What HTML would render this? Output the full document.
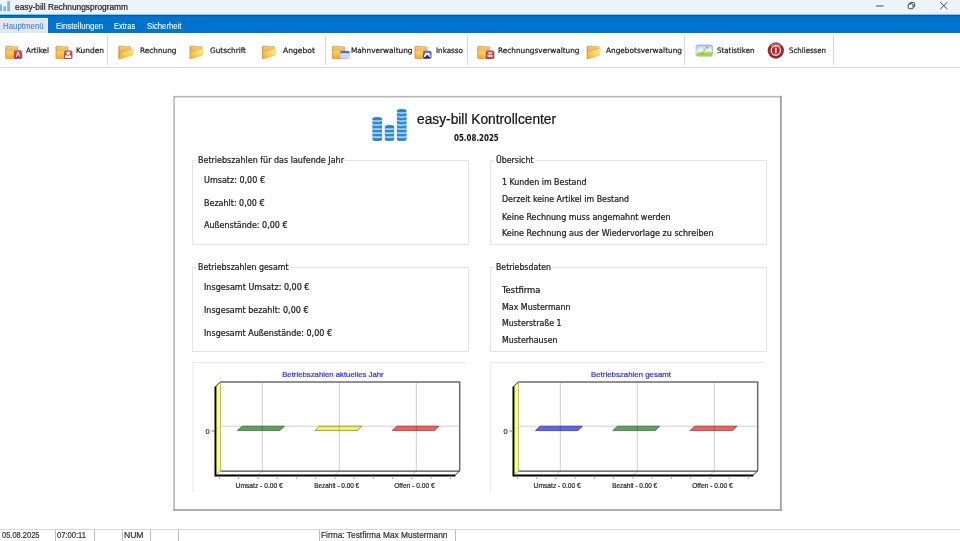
<!DOCTYPE html>
<html lang="de"><head><meta charset="utf-8"><title>easy-bill Rechnungsprogramm</title>
<style>
html,body{margin:0;padding:0;background:#fff;}
body{width:960px;height:541px;position:relative;overflow:hidden;font-family:'DejaVu Sans Condensed','Liberation Sans',sans-serif;}
.t{position:absolute;white-space:nowrap;line-height:1;transform-origin:0 0;display:block;-webkit-text-stroke:0.22px currentColor;}
.abs{position:absolute;}
#titlebar{left:0;top:0;width:960px;height:15px;background:linear-gradient(#edf3f8 0,#eff3f8 12.4px,#ddf8ff 13.2px,#d2f2ff 14.2px,#5aa6dc 14.7px,#045aa5 15px);}
#menubar{left:0;top:15px;width:960px;height:18px;background:linear-gradient(#045aa5 0,#045aa5 0.8px,#0073cc 1.6px,#0073cc 100%);}
#menutab{left:0;top:18px;width:48px;height:15px;background:#e3e8f0;box-sizing:border-box;border-top:1px solid #eef2f8;border-right:1px solid #eef2f8;}
#toolbar{left:0;top:33px;width:960px;height:34.6px;background:#fff;border-bottom:1px solid #dbdbdb;box-sizing:border-box;}
.sep{position:absolute;top:35px;width:1.4px;height:30px;background:#d6d6dc;}
#panel{left:173.5px;top:95.8px;width:608.2px;height:415px;background:#fff;}
.pb{position:absolute;}
.gb{position:absolute;box-sizing:border-box;border:1px solid #e4e4e4;}
.lg{position:absolute;background:#fff;height:10px;}
#status{left:0;top:528.7px;width:960px;height:1px;background:#d8d8d8;}
.ss{position:absolute;top:529.5px;width:1px;height:12px;background:#bdbdbd;}
svg{position:absolute;left:0;top:0;}
</style></head><body>

<div id="titlebar" class="abs"></div>
<div id="menubar" class="abs"></div>
<div id="menutab" class="abs"></div>
<div id="toolbar" class="abs"></div>
<div class="sep" style="left:107px"></div>
<div class="sep" style="left:325px"></div>
<div class="sep" style="left:467px"></div>
<div class="sep" style="left:684px"></div>
<div class="sep" style="left:832.5px"></div>
<span class="t" style="left:15.00px;top:2.80px;font-family:'Liberation Sans',sans-serif;font-size:9.3px;color:#1c1c1c;font-weight:normal;transform:scaleX(0.8962)">easy-bill Rechnungsprogramm</span>
<span class="t" style="left:2.90px;top:21.50px;font-family:'Liberation Sans',sans-serif;font-size:8.5px;color:#3b82cf;font-weight:normal;transform:scaleX(0.9260);-webkit-text-stroke-width:0.08px">Hauptmenü</span>
<span class="t" style="left:55.60px;top:21.50px;font-family:'Liberation Sans',sans-serif;font-size:8.5px;color:#ffffff;font-weight:normal;transform:scaleX(0.9246);-webkit-text-stroke-width:0.08px">Einstellungen</span>
<span class="t" style="left:114.00px;top:21.50px;font-family:'Liberation Sans',sans-serif;font-size:8.5px;color:#ffffff;font-weight:normal;transform:scaleX(0.8799);-webkit-text-stroke-width:0.08px">Extras</span>
<span class="t" style="left:147.00px;top:21.50px;font-family:'Liberation Sans',sans-serif;font-size:8.5px;color:#ffffff;font-weight:normal;transform:scaleX(0.9124);-webkit-text-stroke-width:0.08px">Sicherheit</span>
<span class="t" style="left:26.00px;top:47.45px;font-family:'DejaVu Sans','Liberation Sans',sans-serif;font-size:7.5px;color:#1a1a1a;font-weight:normal;transform:scaleX(0.9577)">Artikel</span>
<span class="t" style="left:76.00px;top:47.45px;font-family:'DejaVu Sans','Liberation Sans',sans-serif;font-size:7.5px;color:#1a1a1a;font-weight:normal;transform:scaleX(0.9933)">Kunden</span>
<span class="t" style="left:139.50px;top:47.45px;font-family:'DejaVu Sans','Liberation Sans',sans-serif;font-size:7.5px;color:#1a1a1a;font-weight:normal;transform:scaleX(0.9762)">Rechnung</span>
<span class="t" style="left:210.00px;top:47.45px;font-family:'DejaVu Sans','Liberation Sans',sans-serif;font-size:7.5px;color:#1a1a1a;font-weight:normal;transform:scaleX(0.9750)">Gutschrift</span>
<span class="t" style="left:282.50px;top:47.45px;font-family:'DejaVu Sans','Liberation Sans',sans-serif;font-size:7.5px;color:#1a1a1a;font-weight:normal;transform:scaleX(1.0139)">Angebot</span>
<span class="t" style="left:350.50px;top:47.45px;font-family:'DejaVu Sans','Liberation Sans',sans-serif;font-size:7.5px;color:#1a1a1a;font-weight:normal;transform:scaleX(0.9803)">Mahnverwaltung</span>
<span class="t" style="left:435.50px;top:47.45px;font-family:'DejaVu Sans','Liberation Sans',sans-serif;font-size:7.5px;color:#1a1a1a;font-weight:normal;transform:scaleX(0.9579)">Inkasso</span>
<span class="t" style="left:498.00px;top:47.45px;font-family:'DejaVu Sans','Liberation Sans',sans-serif;font-size:7.5px;color:#1a1a1a;font-weight:normal;transform:scaleX(0.9766)">Rechnungsverwaltung</span>
<span class="t" style="left:606.00px;top:47.45px;font-family:'DejaVu Sans','Liberation Sans',sans-serif;font-size:7.5px;color:#1a1a1a;font-weight:normal;transform:scaleX(0.9791)">Angebotsverwaltung</span>
<span class="t" style="left:717.00px;top:47.45px;font-family:'DejaVu Sans','Liberation Sans',sans-serif;font-size:7.5px;color:#1a1a1a;font-weight:normal;transform:scaleX(0.9445)">Statistiken</span>
<span class="t" style="left:788.50px;top:47.45px;font-family:'DejaVu Sans','Liberation Sans',sans-serif;font-size:7.5px;color:#1a1a1a;font-weight:normal;transform:scaleX(0.9341)">Schliessen</span>
<div id="panel" class="abs"></div>
<span class="t" style="left:416.90px;top:112.00px;font-family:'Liberation Sans',sans-serif;font-size:14px;color:#111;font-weight:normal;transform:scaleX(0.9822)">easy-bill Kontrollcenter</span>
<span class="t" style="left:454.00px;top:132.60px;font-family:'DejaVu Sans Condensed','Liberation Sans',sans-serif;font-size:9.4px;color:#111;font-weight:bold;transform:scaleX(0.8396);-webkit-text-stroke-width:0.05px">05.08.2025</span>
<div class="gb" style="left:192px;top:159.5px;width:276.5px;height:85.0px"></div>
<div class="lg" style="left:196px;top:155.5px;width:149px"></div>
<span class="t" style="left:198.00px;top:156.30px;font-family:'DejaVu Sans Condensed','Liberation Sans',sans-serif;font-size:8.9px;color:#1a1a1a;font-weight:normal;transform:scaleX(1.0038)">Betriebszahlen für das laufende Jahr</span>
<div class="gb" style="left:490px;top:159.5px;width:277px;height:85.0px"></div>
<div class="lg" style="left:494px;top:155.5px;width:41px"></div>
<span class="t" style="left:496.00px;top:156.30px;font-family:'DejaVu Sans Condensed','Liberation Sans',sans-serif;font-size:8.9px;color:#1a1a1a;font-weight:normal;transform:scaleX(0.9848)">Übersicht</span>
<div class="gb" style="left:192px;top:266.5px;width:276.5px;height:85.0px"></div>
<div class="lg" style="left:196px;top:262.5px;width:94px"></div>
<span class="t" style="left:198.00px;top:263.40px;font-family:'DejaVu Sans Condensed','Liberation Sans',sans-serif;font-size:8.9px;color:#1a1a1a;font-weight:normal;transform:scaleX(0.9839)">Betriebszahlen gesamt</span>
<div class="gb" style="left:490px;top:266.5px;width:277px;height:85.0px"></div>
<div class="lg" style="left:494px;top:262.5px;width:58px"></div>
<span class="t" style="left:496.00px;top:263.40px;font-family:'DejaVu Sans Condensed','Liberation Sans',sans-serif;font-size:8.9px;color:#1a1a1a;font-weight:normal;transform:scaleX(0.9780)">Betriebsdaten</span>
<span class="t" style="left:204.00px;top:175.80px;font-family:'DejaVu Sans Condensed','Liberation Sans',sans-serif;font-size:8.9px;color:#1a1a1a;font-weight:normal;transform:scaleX(1.0064)">Umsatz: 0,00 €</span>
<span class="t" style="left:204.00px;top:198.60px;font-family:'DejaVu Sans Condensed','Liberation Sans',sans-serif;font-size:8.9px;color:#1a1a1a;font-weight:normal;transform:scaleX(1.0000)">Bezahlt: 0,00 €</span>
<span class="t" style="left:204.00px;top:221.10px;font-family:'DejaVu Sans Condensed','Liberation Sans',sans-serif;font-size:8.9px;color:#1a1a1a;font-weight:normal;transform:scaleX(1.0015)">Außenstände: 0,00 €</span>
<span class="t" style="left:501.70px;top:177.60px;font-family:'DejaVu Sans Condensed','Liberation Sans',sans-serif;font-size:8.9px;color:#1a1a1a;font-weight:normal;transform:scaleX(0.9899)">1 Kunden im Bestand</span>
<span class="t" style="left:501.70px;top:195.00px;font-family:'DejaVu Sans Condensed','Liberation Sans',sans-serif;font-size:8.9px;color:#1a1a1a;font-weight:normal;transform:scaleX(0.9876)">Derzeit keine Artikel im Bestand</span>
<span class="t" style="left:501.70px;top:212.60px;font-family:'DejaVu Sans Condensed','Liberation Sans',sans-serif;font-size:8.9px;color:#1a1a1a;font-weight:normal;transform:scaleX(1.0003)">Keine Rechnung muss angemahnt werden</span>
<span class="t" style="left:501.70px;top:229.20px;font-family:'DejaVu Sans Condensed','Liberation Sans',sans-serif;font-size:8.9px;color:#1a1a1a;font-weight:normal;transform:scaleX(1.0049)">Keine Rechnung aus der Wiedervorlage zu schreiben</span>
<span class="t" style="left:204.00px;top:282.70px;font-family:'DejaVu Sans Condensed','Liberation Sans',sans-serif;font-size:8.9px;color:#1a1a1a;font-weight:normal;transform:scaleX(1.0079)">Insgesamt Umsatz: 0,00 €</span>
<span class="t" style="left:204.00px;top:305.60px;font-family:'DejaVu Sans Condensed','Liberation Sans',sans-serif;font-size:8.9px;color:#1a1a1a;font-weight:normal;transform:scaleX(1.0033)">Insgesamt bezahlt: 0,00 €</span>
<span class="t" style="left:204.00px;top:329.20px;font-family:'DejaVu Sans Condensed','Liberation Sans',sans-serif;font-size:8.9px;color:#1a1a1a;font-weight:normal;transform:scaleX(1.0044)">Insgesamt Außenstände: 0,00 €</span>
<span class="t" style="left:501.70px;top:285.60px;font-family:'DejaVu Sans Condensed','Liberation Sans',sans-serif;font-size:8.9px;color:#1a1a1a;font-weight:normal;transform:scaleX(1.0575)">Testfirma</span>
<span class="t" style="left:501.70px;top:302.60px;font-family:'DejaVu Sans Condensed','Liberation Sans',sans-serif;font-size:8.9px;color:#1a1a1a;font-weight:normal;transform:scaleX(0.9910)">Max Mustermann</span>
<span class="t" style="left:501.70px;top:319.40px;font-family:'DejaVu Sans Condensed','Liberation Sans',sans-serif;font-size:8.9px;color:#1a1a1a;font-weight:normal;transform:scaleX(0.9840)">Musterstraße 1</span>
<span class="t" style="left:501.70px;top:336.20px;font-family:'DejaVu Sans Condensed','Liberation Sans',sans-serif;font-size:8.9px;color:#1a1a1a;font-weight:normal;transform:scaleX(0.9834)">Musterhausen</span>
<div id="status" class="abs"></div>
<div class="ss" style="left:54.5px"></div>
<div class="ss" style="left:93.5px"></div>
<div class="ss" style="left:122px"></div>
<div class="ss" style="left:150px"></div>
<div class="ss" style="left:178px"></div>
<div class="ss" style="left:318.5px"></div>
<div class="ss" style="left:454.5px"></div>
<span class="t" style="left:2.00px;top:531.00px;font-family:'Liberation Sans',sans-serif;font-size:8.8px;color:#333;font-weight:normal;transform:scaleX(0.8517)">05.08.2025</span>
<span class="t" style="left:57.00px;top:531.00px;font-family:'Liberation Sans',sans-serif;font-size:8.8px;color:#333;font-weight:normal;transform:scaleX(0.8633)">07:00:11</span>
<span class="t" style="left:124.00px;top:531.00px;font-family:'Liberation Sans',sans-serif;font-size:8.8px;color:#333;font-weight:normal;transform:scaleX(0.9727)">NUM</span>
<span class="t" style="left:320.50px;top:531.00px;font-family:'Liberation Sans',sans-serif;font-size:8.8px;color:#333;font-weight:normal;transform:scaleX(0.9490)">Firma: Testfirma Max Mustermann</span>
<svg width="960" height="541" viewBox="0 0 960 541">
<defs>
<linearGradient id="fb" x1="0" y1="0" x2="0" y2="1"><stop offset="0" stop-color="#e9ba64"/><stop offset="1" stop-color="#e4a040"/></linearGradient>
<linearGradient id="fg" x1="0" y1="0" x2="0" y2="1"><stop offset="0" stop-color="#fbd16a"/><stop offset="0.5" stop-color="#fbc148"/><stop offset="1" stop-color="#f6a22a"/></linearGradient>
<linearGradient id="ff" x1="0" y1="1" x2="1" y2="0"><stop offset="0" stop-color="#f5a932"/><stop offset="0.5" stop-color="#fbd052"/><stop offset="1" stop-color="#fdec86"/></linearGradient>
<linearGradient id="ff2" x1="0" y1="1" x2="1" y2="0"><stop offset="0" stop-color="#f6a832"/><stop offset="0.5" stop-color="#fbd45a"/><stop offset="1" stop-color="#fdf0a0"/></linearGradient>
<linearGradient id="rb" x1="0" y1="0" x2="0" y2="1"><stop offset="0" stop-color="#d66468"/><stop offset="1" stop-color="#a8262c"/></linearGradient>
<linearGradient id="nb" x1="0" y1="0" x2="0" y2="1"><stop offset="0" stop-color="#7c86da"/><stop offset="0.45" stop-color="#4448b4"/><stop offset="1" stop-color="#17177c"/></linearGradient>
<linearGradient id="rb2" x1="0" y1="0" x2="0" y2="1"><stop offset="0" stop-color="#c4646a"/><stop offset="1" stop-color="#93282e"/></linearGradient>
<linearGradient id="pb" x1="0" y1="0" x2="0" y2="1"><stop offset="0" stop-color="#8898a6"/><stop offset="0.5" stop-color="#a8c0d0"/><stop offset="1" stop-color="#a4cc7a"/></linearGradient>
<linearGradient id="sky" x1="0" y1="0" x2="0" y2="1"><stop offset="0" stop-color="#a9d6f5"/><stop offset="0.6" stop-color="#e8f5fd"/><stop offset="1" stop-color="#ffffff"/></linearGradient>
<linearGradient id="grass" x1="0" y1="0" x2="0" y2="1"><stop offset="0" stop-color="#c4e872"/><stop offset="1" stop-color="#86c82c"/></linearGradient>
<radialGradient id="pw" cx="0.5" cy="0.45" r="0.55"><stop offset="0" stop-color="#bc3c3c"/><stop offset="0.7" stop-color="#a62c30"/><stop offset="1" stop-color="#861a1e"/></radialGradient>
<g id="fclosed">
 <path d="M0.2 1 Q0.2 0.2 1 0.2 H6 L6.6 0.8 H11.8 Q12.5 0.8 12.5 1.5 V12.2 Q12.5 12.9 11.8 12.9 H1 Q0.2 12.9 0.2 12.2 Z" fill="url(#fb)" stroke="#dc9a3a" stroke-width="0.4"/>
 <path d="M1.2 1.9 H11.6 M1.2 3.3 H11.6" stroke="#f8dc9c" stroke-width="0.7" opacity="0.8"/>
 <path d="M0.5 5 H12.3 V12.2 Q12.3 12.7 11.8 12.7 H1 Q0.5 12.7 0.5 12.2 Z" fill="url(#fg)"/>
 <path d="M0.5 1 V12.4" stroke="#d8943a" stroke-width="0.6"/>
</g>
<g id="fopen">
 <path d="M0.4 1.1 Q0.4 0.3 1.2 0.3 H5.6 L6.2 0.9 H11.9 Q12.6 0.9 12.6 1.6 V9.3 L0.4 13.5 Z" fill="url(#fb)" stroke="#d49838" stroke-width="0.4"/>
 <path d="M1.3 2 H11.8 M1.3 3.4 H11.8" stroke="#f4d794" stroke-width="0.7" opacity="0.8"/>
 <path d="M0.6 1 V13.3" stroke="#c88a34" stroke-width="0.7"/>
 <path d="M3.5 6.7 L15.3 3.3 Q16 3.1 15.8 3.9 L14 9.9 L1.2 13.5 Q0.9 13.5 1 13 Z" fill="url(#ff)" stroke="#eeb040" stroke-width="0.3"/>
</g>
<g id="fopen2">
 <path d="M0.3 1.1 Q0.3 0.3 1.1 0.3 H5.5 L6.1 0.9 H11.7 Q12.4 0.9 12.4 1.6 V9.2 L0.3 13.4 Z" fill="url(#fb)" stroke="#d49838" stroke-width="0.4"/>
 <path d="M1.2 2 H11.6 M1.2 3.4 H11.6" stroke="#f4d794" stroke-width="0.7" opacity="0.8"/>
 <path d="M0.5 1 V13.2" stroke="#c88a34" stroke-width="0.7"/>
 <path d="M1 6.6 L13 3.2 Q13.8 3 13.7 3.8 L12.9 9.6 L0.7 13.4 Z" fill="url(#ff2)" stroke="#eeb040" stroke-width="0.3"/>
</g>
</defs>

<g><rect x="173.3" y="95.9" width="608.4" height="1.6" fill="#b8b8b8"/><rect x="173.3" y="95.9" width="1.65" height="414.9" fill="#b8b8b8"/><rect x="780.05" y="95.9" width="1.65" height="414.9" fill="#9c9c9c"/><rect x="173.3" y="509.2" width="608.4" height="1.6" fill="#9c9c9c"/></g>
<g fill="#76b9e7"><rect x="0" y="4.4" width="2" height="6.8"/><rect x="3.4" y="6.2" width="2.6" height="5"/><rect x="7.2" y="1.2" width="2.8" height="10"/></g>
<g stroke="#2b2b2b" stroke-width="0.85" fill="none" stroke-linecap="round"><path d="M876.4 6 H883.2"/><rect x="908.2" y="3.8" width="4.9" height="4.9" rx="1.2"/><path d="M909.8 3.5 V3.3 Q909.8 2.5 910.7 2.5 H913.4 Q914.6 2.5 914.6 3.7 V6.3 Q914.6 7.1 913.8 7.2"/><path d="M940.5 2.5 L947 8.8 M947 2.5 L940.5 8.8"/></g>
<path d="M372.40 118.68 V139.40 A4.85 1.7 0 0 0 382.10 139.40 V118.68 A4.85 1.7 0 0 0 372.40 118.68 Z" fill="#3189cf"/><path d="M372.10 136.18 A5.15 1.0 0 0 0 382.40 136.18M372.10 132.16 A5.15 1.0 0 0 0 382.40 132.16M372.10 128.14 A5.15 1.0 0 0 0 382.40 128.14M372.10 124.12 A5.15 1.0 0 0 0 382.40 124.12M372.10 120.10 A5.15 1.0 0 0 0 382.40 120.10" fill="none" stroke="#d2f1ff" stroke-width="1.15"/><ellipse cx="377.25" cy="118.68" rx="4.35" ry="1.25" fill="#2a82c9"/>
<path d="M384.80 126.72 V139.40 A4.70 1.7 0 0 0 394.20 139.40 V126.72 A4.70 1.7 0 0 0 384.80 126.72 Z" fill="#3189cf"/><path d="M384.50 136.18 A5.00 1.0 0 0 0 394.50 136.18M384.50 132.16 A5.00 1.0 0 0 0 394.50 132.16M384.50 128.14 A5.00 1.0 0 0 0 394.50 128.14" fill="none" stroke="#d2f1ff" stroke-width="1.15"/><ellipse cx="389.50" cy="126.72" rx="4.20" ry="1.25" fill="#2a82c9"/>
<path d="M396.90 110.64 V139.40 A4.85 1.7 0 0 0 406.60 139.40 V110.64 A4.85 1.7 0 0 0 396.90 110.64 Z" fill="#3189cf"/><path d="M396.60 136.18 A5.15 1.0 0 0 0 406.90 136.18M396.60 132.16 A5.15 1.0 0 0 0 406.90 132.16M396.60 128.14 A5.15 1.0 0 0 0 406.90 128.14M396.60 124.12 A5.15 1.0 0 0 0 406.90 124.12M396.60 120.10 A5.15 1.0 0 0 0 406.90 120.10M396.60 116.08 A5.15 1.0 0 0 0 406.90 116.08M396.60 112.06 A5.15 1.0 0 0 0 406.90 112.06" fill="none" stroke="#d2f1ff" stroke-width="1.15"/><ellipse cx="401.75" cy="110.64" rx="4.35" ry="1.25" fill="#2a82c9"/>
<use href="#fclosed" x="5.4" y="45.8"/>
<rect x="14.1" y="50.6" width="7.8" height="8" rx="1.3" fill="url(#rb)" stroke="#9c3a3e" stroke-width="0.4"/>
<path d="M16.2 57 L18 52.4 L19.9 57" stroke="#fff" stroke-width="1" fill="none" stroke-linejoin="miter"/>
<use href="#fclosed" x="55.7" y="45.8"/>
<rect x="64.3" y="50.7" width="7.9" height="8" rx="1.3" fill="url(#rb)" stroke="#9c3a3e" stroke-width="0.4"/>
<circle cx="68.25" cy="53.3" r="1.7" fill="#fff"/><path d="M65.2 58 V56.5 Q65.2 55 66.8 55 L68.25 56.1 L69.7 55 Q71.3 55 71.3 56.5 V58 Z" fill="#fff"/>
<use href="#fopen" x="118.4" y="45.6"/>
<use href="#fopen2" x="189.7" y="45.6"/>
<use href="#fopen2" x="262.2" y="45.6"/>
<use href="#fopen2" x="586.8" y="45.6"/>
<use href="#fclosed" x="332.2" y="45.8"/>
<rect x="340.2" y="51" width="9.2" height="7.4" rx="1.2" fill="#dfe4f8" stroke="#8fa0d8" stroke-width="0.5"/>
<path d="M340.3 53.3 V52.2 Q340.3 51 341.5 51 H348.1 Q349.3 51 349.3 52.2 V53.3 Z" fill="#4f6fbe"/>
<path d="M341.6 55.4 H348 M341.6 56.9 H348" stroke="#b9c3ea" stroke-width="0.6"/>
<use href="#fclosed" x="414.7" y="45.8"/>
<rect x="423.3" y="51" width="7.9" height="7.4" rx="1.3" fill="url(#nb)" stroke="#3a3c9c" stroke-width="0.4"/>
<path d="M423.9 57 Q424 52.7 427.3 52.7 Q430.6 52.7 430.8 57 L429.3 57.2 Q428.8 55 427.3 55 Q425.8 55 425.3 57.2 Z" fill="#eceeff"/>
<use href="#fclosed" x="477.4" y="45.8"/>
<rect x="486.1" y="50.8" width="8" height="7.9" rx="1.3" fill="url(#rb2)" stroke="#8e3a40" stroke-width="0.4"/>
<path d="M487.8 52.2 H492.4 L491.2 54.2 H489 Z" fill="#f6d4d4"/><rect x="487.4" y="54.7" width="5.4" height="2.5" rx="0.5" fill="#f2c4c4"/>
<rect x="696.1" y="45.2" width="16.4" height="11.1" rx="1.7" fill="url(#sky)" stroke="url(#pb)" stroke-width="0.8"/>
<path d="M696.6 53 Q700 51 704.3 52.2 Q708.6 50.8 712 51.8 V54.7 Q712 55.8 710.9 55.8 H697.7 Q696.6 55.8 696.6 54.7 Z" fill="url(#grass)"/>
<path d="M701.8 53 L704.6 48.6 L706 49.4 L703.4 53.6 Z" fill="#e6bc68"/><ellipse cx="702.6" cy="53.4" rx="1.5" ry="0.6" fill="#8aa838" opacity="0.7"/><circle cx="707.2" cy="47.5" r="0.95" fill="#d87886"/><ellipse cx="700.8" cy="49.6" rx="1.8" ry="0.9" fill="#fff" opacity="0.9"/><ellipse cx="709.4" cy="49.6" rx="1.6" ry="0.8" fill="#fff" opacity="0.9"/>
<circle cx="775.8" cy="50.5" r="7.8" fill="url(#pw)" stroke="#741a1e" stroke-width="0.6"/>
<ellipse cx="775.8" cy="45.7" rx="5" ry="2.3" fill="#fff" opacity="0.33"/>
<circle cx="775.8" cy="50.6" r="4.6" fill="#b42a26" stroke="#fff" stroke-width="1.15"/>
<path d="M775.8 48.2 V52.9" stroke="#fff" stroke-width="1.4" stroke-linecap="round"/>
<path d="M192.80 492 V362.5 H466.00" fill="none" stroke="#e9e9e9" stroke-width="1"/>
<text x="282.20" y="376.5" font-family="'Liberation Sans',sans-serif" font-size="8.1" fill="#2a2ae6" stroke="#2a2ae6" stroke-width="0.2" textLength="101.5" lengthAdjust="spacingAndGlyphs">Betriebszahlen aktuelles Jahr</text>
<rect x="220.50" y="382" width="239.2" height="88.8" fill="#fff"/>
<path d="M220.50 426.2 H459.70" stroke="#cfcfcf" stroke-width="1" fill="none"/>
<path d="M262.30 382 V470.8 L257.70 475.4" stroke="#cfcfcf" stroke-width="1" fill="none"/>
<path d="M339.30 382 V470.8 L334.70 475.4" stroke="#cfcfcf" stroke-width="1" fill="none"/>
<path d="M416.30 382 V470.8 L411.70 475.4" stroke="#cfcfcf" stroke-width="1" fill="none"/>
<path d="M220.50 382 H459.70 V470.8" stroke="#6c6c6c" stroke-width="1.5" fill="none"/>
<path d="M220.50 471.1 H459.70" stroke="#4a4a4a" stroke-width="1.2" fill="none"/>
<path d="M459.70 470.8 L455.00 475.4" stroke="#333" stroke-width="1" fill="none"/>
<path d="M215.00 475.4 H455.30" stroke="#000" stroke-width="2" fill="none"/>
<path d="M216.20 386 L220.50 382 V470.8 L216.20 475 Z" fill="#ffff7a" stroke="#7a7a3a" stroke-width="0.5"/>
<path d="M220.50 426.2 L216.20 430.6" stroke="#d8d8a0" stroke-width="0.8" fill="none"/>
<path d="M215.40 386.4 V476.3" stroke="#000" stroke-width="1.8" fill="none"/>
<path d="M215.40 386.6 L220.30 382" stroke="#444" stroke-width="1" fill="none"/>
<path d="M211.50 431 H214.50" stroke="#777" stroke-width="1" fill="none"/>
<text x="205.60" y="434" font-family="'Liberation Sans',sans-serif" font-size="7.4" fill="#222" stroke="#222" stroke-width="0.15">0</text>
<path d="M237.50 430.6 H280.00 L284.40 426.2 H242.10 Z" fill="#5f9f5f" stroke="#2f5f2f" stroke-width="0.7"/>
<path d="M314.80 430.6 H357.30 L361.70 426.2 H319.40 Z" fill="#f2f264" stroke="#77772a" stroke-width="0.7"/>
<path d="M392.10 430.6 H434.60 L439.00 426.2 H396.70 Z" fill="#ee6262" stroke="#8a2a2a" stroke-width="0.7"/>
<path d="M262.30 426.4 V430.4" stroke="#000" stroke-opacity="0.16" stroke-width="1.2" fill="none"/>
<path d="M339.30 426.4 V430.4" stroke="#000" stroke-opacity="0.16" stroke-width="1.2" fill="none"/>
<path d="M416.30 426.4 V430.4" stroke="#000" stroke-opacity="0.16" stroke-width="1.2" fill="none"/>
<path d="M219.40 476.4 V478.8M238.65 476.4 V478.8M257.90 476.4 V478.8M277.15 476.4 V478.8M296.40 476.4 V478.8M315.65 476.4 V478.8M334.90 476.4 V478.8M354.15 476.4 V478.8M373.40 476.4 V478.8M392.65 476.4 V478.8M411.90 476.4 V478.8M431.15 476.4 V478.8M450.40 476.4 V478.8" stroke="#a2a2a2" stroke-width="1" fill="none"/>
<text x="235.60" y="487.7" font-family="'Liberation Sans',sans-serif" font-size="7.4" fill="#222" stroke="#222" stroke-width="0.2" textLength="47.2" lengthAdjust="spacingAndGlyphs">Umsatz - 0.00 €</text>
<text x="314.20" y="487.7" font-family="'Liberation Sans',sans-serif" font-size="7.4" fill="#222" stroke="#222" stroke-width="0.2" textLength="45.0" lengthAdjust="spacingAndGlyphs">Bezahlt - 0.00 €</text>
<text x="394.20" y="487.7" font-family="'Liberation Sans',sans-serif" font-size="7.4" fill="#222" stroke="#222" stroke-width="0.2" textLength="40.5" lengthAdjust="spacingAndGlyphs">Offen - 0.00 €</text>
<path d="M490.80 492 V362.5 H764.00" fill="none" stroke="#e9e9e9" stroke-width="1"/>
<text x="591.00" y="376.5" font-family="'Liberation Sans',sans-serif" font-size="8.1" fill="#2a2ae6" stroke="#2a2ae6" stroke-width="0.2" textLength="80" lengthAdjust="spacingAndGlyphs">Betriebszahlen gesamt</text>
<rect x="518.50" y="382" width="239.2" height="88.8" fill="#fff"/>
<path d="M518.50 426.2 H757.70" stroke="#cfcfcf" stroke-width="1" fill="none"/>
<path d="M560.30 382 V470.8 L555.70 475.4" stroke="#cfcfcf" stroke-width="1" fill="none"/>
<path d="M637.30 382 V470.8 L632.70 475.4" stroke="#cfcfcf" stroke-width="1" fill="none"/>
<path d="M714.30 382 V470.8 L709.70 475.4" stroke="#cfcfcf" stroke-width="1" fill="none"/>
<path d="M518.50 382 H757.70 V470.8" stroke="#6c6c6c" stroke-width="1.5" fill="none"/>
<path d="M518.50 471.1 H757.70" stroke="#4a4a4a" stroke-width="1.2" fill="none"/>
<path d="M757.70 470.8 L753.00 475.4" stroke="#333" stroke-width="1" fill="none"/>
<path d="M513.00 475.4 H753.30" stroke="#000" stroke-width="2" fill="none"/>
<path d="M514.20 386 L518.50 382 V470.8 L514.20 475 Z" fill="#ffff7a" stroke="#7a7a3a" stroke-width="0.5"/>
<path d="M518.50 426.2 L514.20 430.6" stroke="#d8d8a0" stroke-width="0.8" fill="none"/>
<path d="M513.40 386.4 V476.3" stroke="#000" stroke-width="1.8" fill="none"/>
<path d="M513.40 386.6 L518.30 382" stroke="#444" stroke-width="1" fill="none"/>
<path d="M509.50 431 H512.50" stroke="#777" stroke-width="1" fill="none"/>
<text x="503.60" y="434" font-family="'Liberation Sans',sans-serif" font-size="7.4" fill="#222" stroke="#222" stroke-width="0.15">0</text>
<path d="M535.50 430.6 H578.00 L582.40 426.2 H540.10 Z" fill="#6262ea" stroke="#2a2a8a" stroke-width="0.7"/>
<path d="M612.80 430.6 H655.30 L659.70 426.2 H617.40 Z" fill="#5f9f5f" stroke="#2f5f2f" stroke-width="0.7"/>
<path d="M690.10 430.6 H732.60 L737.00 426.2 H694.70 Z" fill="#ee6262" stroke="#8a2a2a" stroke-width="0.7"/>
<path d="M560.30 426.4 V430.4" stroke="#000" stroke-opacity="0.16" stroke-width="1.2" fill="none"/>
<path d="M637.30 426.4 V430.4" stroke="#000" stroke-opacity="0.16" stroke-width="1.2" fill="none"/>
<path d="M714.30 426.4 V430.4" stroke="#000" stroke-opacity="0.16" stroke-width="1.2" fill="none"/>
<path d="M517.40 476.4 V478.8M536.65 476.4 V478.8M555.90 476.4 V478.8M575.15 476.4 V478.8M594.40 476.4 V478.8M613.65 476.4 V478.8M632.90 476.4 V478.8M652.15 476.4 V478.8M671.40 476.4 V478.8M690.65 476.4 V478.8M709.90 476.4 V478.8M729.15 476.4 V478.8M748.40 476.4 V478.8" stroke="#a2a2a2" stroke-width="1" fill="none"/>
<text x="533.60" y="487.7" font-family="'Liberation Sans',sans-serif" font-size="7.4" fill="#222" stroke="#222" stroke-width="0.2" textLength="47.2" lengthAdjust="spacingAndGlyphs">Umsatz - 0.00 €</text>
<text x="612.20" y="487.7" font-family="'Liberation Sans',sans-serif" font-size="7.4" fill="#222" stroke="#222" stroke-width="0.2" textLength="45.0" lengthAdjust="spacingAndGlyphs">Bezahlt - 0.00 €</text>
<text x="692.20" y="487.7" font-family="'Liberation Sans',sans-serif" font-size="7.4" fill="#222" stroke="#222" stroke-width="0.2" textLength="40.5" lengthAdjust="spacingAndGlyphs">Offen - 0.00 €</text>
</svg>
</body></html>
